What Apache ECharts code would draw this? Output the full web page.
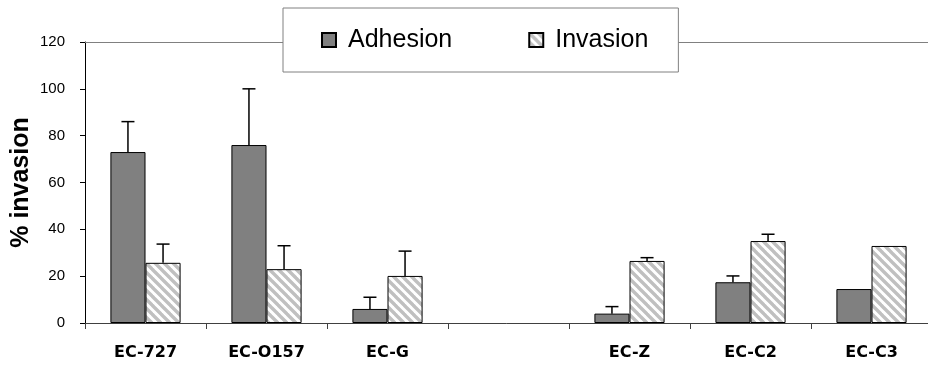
<!DOCTYPE html>
<html>
<head>
<meta charset="utf-8">
<script src="https://cdn.jsdelivr.net/npm/echarts@6/dist/echarts.min.js"></script>
<style>html,body{margin:0;padding:0;background:#fff;}#chart{width:928px;height:366px;}</style>
</head>
<body>
<div id="chart"></div>
<script>
const categories = ['EC-727', 'EC-O157', 'EC-G', '', 'EC-Z', 'EC-C2', 'EC-C3'];
const adhesion = [73, 76, 6, null, 4, 17.4, 14.5];
const adhesionErr = [13, 24, 5, null, 3, 2.7, 0];
const invasion = [25.7, 23, 20.1, null, 26.5, 35, 32.9];
const invasionErr = [8, 10, 10.6, null, 1.4, 2.9, 0];
const yTicks = { min: 0, max: 120, interval: 20 };

const BAR_RATIO = 0.29;

const T = 9;
const tile = document.createElement('canvas');
tile.width = T; tile.height = T;
const tc = tile.getContext('2d');
tc.fillStyle = '#ffffff';
tc.fillRect(0, 0, T, T);
tc.strokeStyle = '#c0c0c0';
tc.lineWidth = 3.4;
[-T, 0, T].forEach(k => {
  tc.beginPath();
  tc.moveTo(k - 1, -1);
  tc.lineTo(k + T + 1, T + 1);
  tc.stroke();
});

function errRender(side) {
  return function (params, api) {
    const v = api.value(1), e = api.value(2);
    if (v == null || isNaN(v) || e == null || isNaN(e) || e <= 0) return;
    const base = api.coord([api.value(0), v]);
    const top = api.coord([api.value(0), v + e]);
    const band = api.size([1, 0])[0];
    const cx = base[0] + side * band * BAR_RATIO / 2;
    const st = { stroke: '#000', lineWidth: 1.5 };
    return {
      type: 'group',
      children: [
        { type: 'line', shape: { x1: cx, y1: base[1], x2: cx, y2: top[1] }, style: st },
        { type: 'line', shape: { x1: cx - 6.5, y1: top[1], x2: cx + 6.5, y2: top[1] }, style: st }
      ]
    };
  };
}

const chart = echarts.init(document.getElementById('chart'), null, { renderer: 'canvas' });
chart.setOption({
  animation: false,
  backgroundColor: '#fff',
  grid: { left: 85, top: 42, width: 847, bottom: 43, containLabel: false, outerBoundsMode: 'none' },
  legend: {
    left: 283, top: 8,
    padding: [17, 30, 17, 38],
    backgroundColor: '#fff',
    borderColor: '#808080',
    borderWidth: 1,
    itemWidth: 14, itemHeight: 14,
    itemGap: 76,
    icon: 'rect',
    data: ['Adhesion', 'Invasion'],
    textStyle: { fontFamily: 'Liberation Sans', fontSize: 25, color: '#000', lineHeight: 30, padding: [0, 0, 0, 7] }
  },
  xAxis: [
    {
      type: 'category', data: categories, position: 'bottom',
      axisLine: { lineStyle: { color: '#404040', width: 1 } },
      axisTick: { show: true, length: 6, lineStyle: { color: '#404040' } },
      axisLabel: { margin: 22, fontFamily: 'DejaVu Sans', fontWeight: 'bold', fontSize: 16, color: '#000', interval: 0 }
    },
    {
      type: 'category', data: categories, position: 'top',
      axisLine: { lineStyle: { color: '#808080', width: 1 } },
      axisTick: { show: false }, axisLabel: { show: false }
    }
  ],
  yAxis: {
    type: 'value', min: yTicks.min, max: yTicks.max, interval: yTicks.interval,
    name: '% invasion', nameLocation: 'middle', nameGap: 51, nameMoveOverlap: false,
    nameTextStyle: { fontFamily: 'Liberation Sans', fontWeight: 'bold', fontSize: 25, color: '#000' },
    axisLine: { show: true, lineStyle: { color: '#000', width: 1 } },
    axisTick: { show: true, length: 5, lineStyle: { color: '#000' } },
    splitLine: { show: false },
    axisLabel: { margin: 20, fontFamily: 'Liberation Sans', fontSize: 15, color: '#000' }
  },
  series: [
    {
      name: 'Adhesion', type: 'bar', data: adhesion, barWidth: (BAR_RATIO * 100) + '%', barGap: '0%',
      itemStyle: { color: '#808080', borderColor: '#000', borderWidth: 1 }
    },
    {
      name: 'Invasion', type: 'bar', data: invasion, barWidth: (BAR_RATIO * 100) + '%', barGap: '0%',
      itemStyle: { color: { image: tile, repeat: 'repeat' }, borderColor: '#000', borderWidth: 1 }
    },
    {
      type: 'custom', renderItem: errRender(-1), z: 5,
      data: adhesion.map((v, i) => [i, v, adhesionErr[i]])
    },
    {
      type: 'custom', renderItem: errRender(1), z: 5,
      data: invasion.map((v, i) => [i, v, invasionErr[i]])
    }
  ]
});
</script>
</body>
</html>
